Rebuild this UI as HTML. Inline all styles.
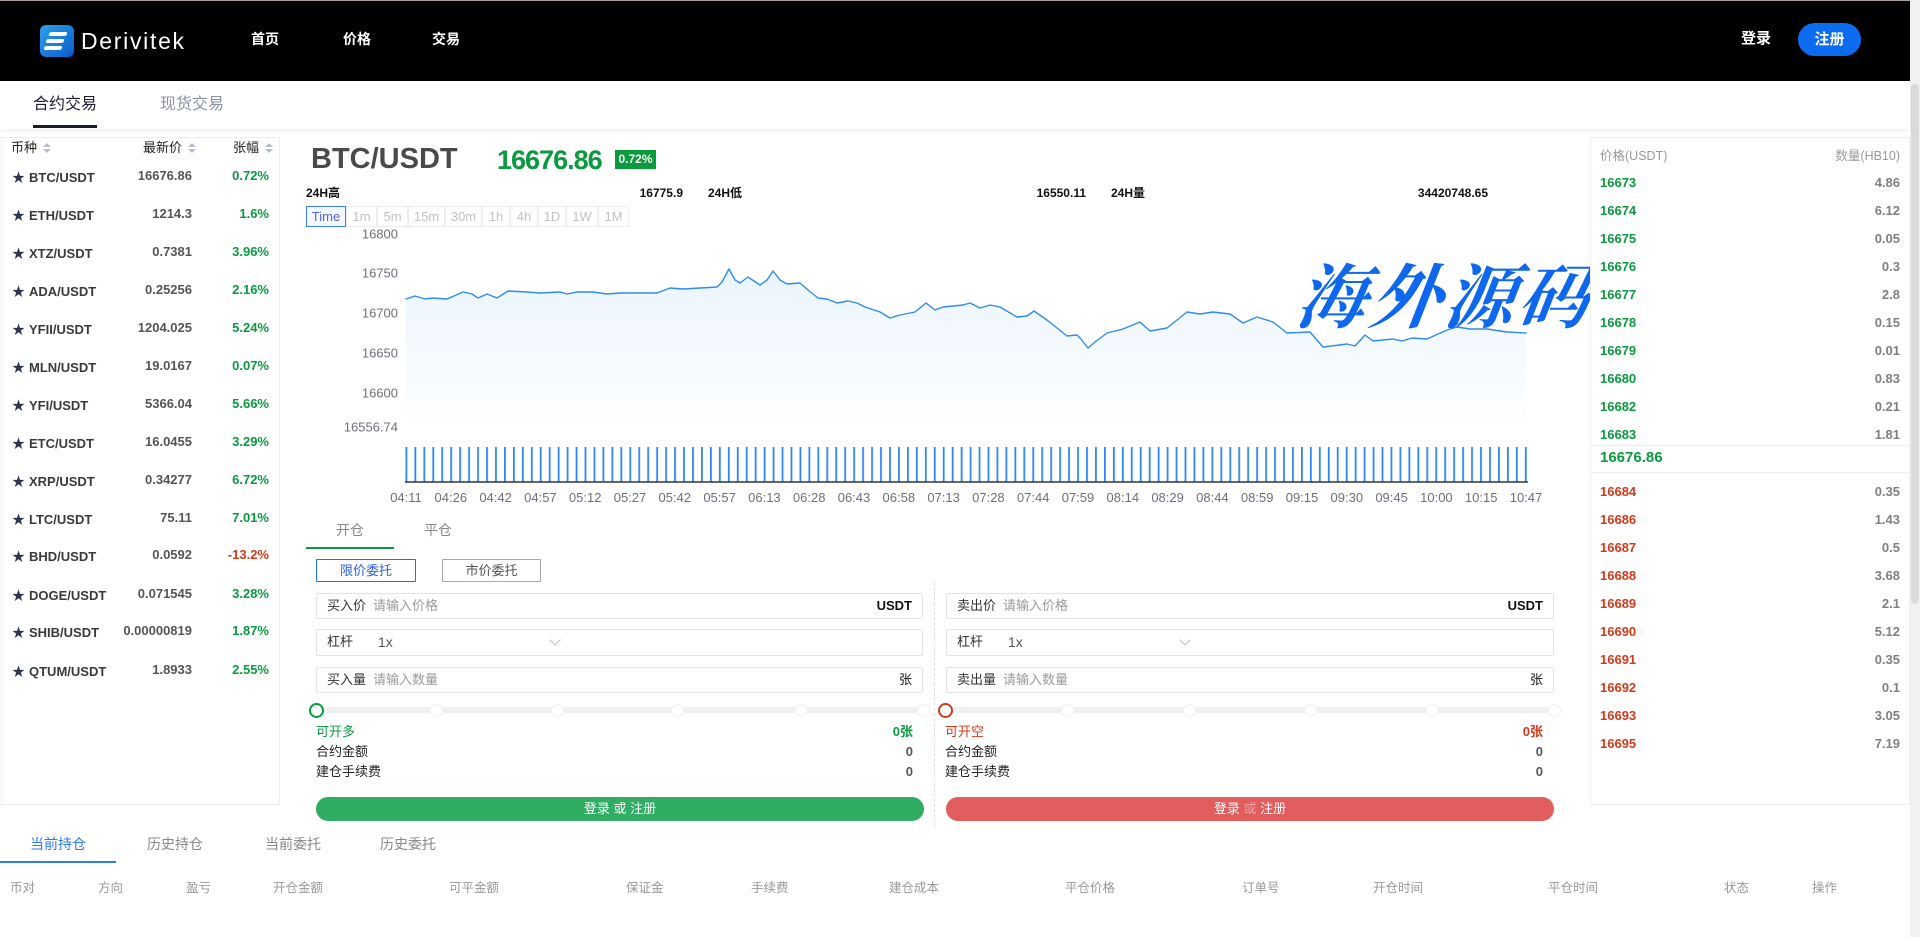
<!DOCTYPE html>
<html><head><meta charset="utf-8">
<style>
*{margin:0;padding:0;box-sizing:border-box}
html,body{width:1920px;height:937px;overflow:hidden;background:#fff;font-family:"Liberation Sans","Noto Sans CJK SC",sans-serif;color:#333}
.a{position:absolute;white-space:nowrap}
.hdr{position:absolute;left:0;top:0;width:1910px;height:81px;background:#000;border-top:1px solid #a89f99}
.nav{font-size:14px;font-weight:bold;color:#fff;top:30px;line-height:18px}
.tabbar{position:absolute;left:0;top:81px;width:1910px;height:48px;background:#fff;box-shadow:0 2px 4px rgba(0,0,0,0.06)}
.panel{position:absolute;border:1px solid #eeeeee;background:#fff}
.row{position:absolute;height:20px;line-height:20px;font-size:13px;font-weight:bold;white-space:nowrap}
.g{color:#0a9a3f}.rd{color:#d23a1a}
.ob{position:absolute;height:20px;line-height:20px;font-size:13px;font-weight:bold;white-space:nowrap}
.q{color:#808080;font-weight:bold;text-align:right}
.pb{position:absolute;top:206px;height:21px;border:1px solid #eeeeee;font-size:13px;color:#c2c2c2;text-align:center;line-height:19px}
.inp{position:absolute;height:26px;border:1px solid #e3e3e3;border-radius:2px;background:#fff}
.lbl{position:absolute;font-size:13px;color:#333;line-height:24px;top:0}
.ph{position:absolute;font-size:13px;color:#9a9a9a;line-height:24px;top:0}
.unit{position:absolute;right:10px;font-size:13px;line-height:24px;top:0;color:#111}
.sm{position:absolute;font-size:13px;line-height:18px;color:#222;white-space:nowrap}
.track{position:absolute;height:6px;background:#f0f0f0;border-radius:3px}
.dot{position:absolute;width:13px;height:13px;border-radius:50%;background:#fff;border:1px solid #f0f0f0}
.btn{position:absolute;height:24px;border-radius:12px;color:#fff;font-size:13px;text-align:center;line-height:24px}
.ch{position:absolute;top:879px;font-size:12.5px;color:#999;line-height:18px;white-space:nowrap}
.sort{display:inline-block;width:8px;height:10px;position:relative;margin-left:6px;vertical-align:-1px}
.sort:before{content:"";position:absolute;left:0;top:0;border-left:4px solid transparent;border-right:4px solid transparent;border-bottom:4px solid #b7bdc8}
.sort:after{content:"";position:absolute;left:0;top:6px;border-left:4px solid transparent;border-right:4px solid transparent;border-top:4px solid #b7bdc8}
</style></head><body>

<!-- header -->
<div class="hdr"></div>
<div class="a" style="left:40px;top:25px;width:34px;height:32px;border-radius:6px;background:linear-gradient(135deg,#2aa0ee,#0a5cc9);overflow:hidden">
  <div style="position:absolute;left:9px;top:7px;width:18px;height:4px;background:#fff;border-radius:2px;transform:skewX(-20deg)"></div>
  <div style="position:absolute;left:6px;top:14px;width:18px;height:4px;background:#fff;border-radius:2px;transform:skewX(-20deg)"></div>
  <div style="position:absolute;left:4px;top:21px;width:18px;height:4px;background:#fff;border-radius:2px;transform:skewX(-20deg)"></div>
</div>
<div class="a" style="left:81px;top:27px;font-size:23px;color:#fff;line-height:28px;letter-spacing:1.7px">Derivitek</div>
<div class="a nav" style="left:251px">首页</div>
<div class="a nav" style="left:343px">价格</div>
<div class="a nav" style="left:432px">交易</div>
<div class="a" style="left:1741px;top:30px;font-size:15px;font-weight:bold;color:#fff;line-height:18px">登录</div>
<div class="a" style="left:1798px;top:23px;width:63px;height:33px;border-radius:17px;background:#0b6cf0;color:#fff;font-size:15px;font-weight:bold;text-align:center;line-height:33px">注册</div>

<!-- scrollbar -->
<div class="a" style="left:1910px;top:0;width:10px;height:937px;background:#f1f1f1"></div>
<div class="a" style="left:1911px;top:84px;width:8px;height:520px;background:#dadada;border-radius:4px"></div>

<!-- tab bar -->
<div class="tabbar"></div>
<div class="a" style="left:33px;top:95px;font-size:16px;color:#1a1d2e;line-height:20px">合约交易</div>
<div class="a" style="left:33px;top:125px;width:64px;height:3px;background:#1a1d2e"></div>
<div class="a" style="left:160px;top:95px;font-size:16px;color:#8a91a5;line-height:20px">现货交易</div>

<!-- left list -->
<div class="panel" style="left:1px;top:137px;width:279px;height:668px"></div>
<div class="a" style="left:11px;top:139px;font-size:13px;color:#222;line-height:18px">币种<span class="sort"></span></div>
<div class="a" style="left:143px;top:139px;font-size:13px;color:#222;line-height:18px">最新价<span class="sort"></span></div>
<div class="a" style="left:233px;top:139px;font-size:13px;color:#222;line-height:18px">张幅<span class="sort"></span></div>

<!-- chart header -->
<div class="a" style="left:311px;top:142px;font-size:29px;font-weight:bold;color:#4a4a4a;line-height:34px">BTC/USDT</div>
<div class="a" style="left:497px;top:143px;font-size:27px;font-weight:bold;color:#0a9a3f;line-height:34px;letter-spacing:-1px">16676.86</div>
<div class="a" style="left:615px;top:150px;width:41px;height:19px;background:#0a9b3c;color:#fff;font-size:12px;font-weight:bold;text-align:center;line-height:19px">0.72%</div>

<div class="a" style="left:306px;top:185px;font-size:12px;font-weight:bold;color:#111;line-height:16px">24H高</div>
<div class="a" style="left:600px;width:83px;text-align:right;top:185px;font-size:12px;font-weight:bold;color:#111;line-height:16px">16775.9</div>
<div class="a" style="left:708px;top:185px;font-size:12px;font-weight:bold;color:#111;line-height:16px">24H低</div>
<div class="a" style="left:1000px;width:86px;text-align:right;top:185px;font-size:12px;font-weight:bold;color:#111;line-height:16px">16550.11</div>
<div class="a" style="left:1111px;top:185px;font-size:12px;font-weight:bold;color:#111;line-height:16px">24H量</div>
<div class="a" style="left:1380px;width:108px;text-align:right;top:185px;font-size:12px;font-weight:bold;color:#111;line-height:16px">34420748.65</div>

<div class="pb" style="left:306px;width:40px;border-color:#3b7fee;color:#5266dd;background:#f3f7ff">Time</div>
<div class="pb" style="left:346px;width:31px">1m</div>
<div class="pb" style="left:377px;width:31px">5m</div>
<div class="pb" style="left:408px;width:37px">15m</div>
<div class="pb" style="left:445px;width:37px">30m</div>
<div class="pb" style="left:482px;width:28px">1h</div>
<div class="pb" style="left:510px;width:28px">4h</div>
<div class="pb" style="left:538px;width:28px">1D</div>
<div class="pb" style="left:566px;width:32px">1W</div>
<div class="pb" style="left:598px;width:31px">1M</div>

<!-- chart svg -->
<svg class="a" style="left:0;top:0" width="1920" height="937" viewBox="0 0 1920 937">
<defs>
<linearGradient id="fg" x1="0" y1="0" x2="0" y2="1">
<stop offset="0" stop-color="#1e88f0" stop-opacity="0.09"/>
<stop offset="1" stop-color="#1e88f0" stop-opacity="0.01"/>
</linearGradient>
<pattern id="vb" x="405.5" y="0" width="8.955" height="937" patternUnits="userSpaceOnUse">
<rect x="0" y="0" width="1.8" height="937" fill="#2e86f5"/>
</pattern>
</defs>
<g font-family="Liberation Sans, sans-serif" font-size="13" fill="#6e7079" text-anchor="end">
<text x="398" y="238.5">16800</text>
<text x="398" y="277.5">16750</text>
<text x="398" y="317.5">16700</text>
<text x="398" y="357.5">16650</text>
<text x="398" y="397.5">16600</text>
<text x="398" y="431.5">16556.74</text>
</g>
<polygon fill="url(#fg)" points="406,420 406,299 415,296 425,299 433,298 447,299 463,292 472,294 478,298 487,294 497,298 508,291 527,292 540,293 560,292 567,294 577,292 593,292 607,294 620,293 657,293 670,288 683,289 717,287 722,282 729,269 735,280 740,283 748,277 760,285 767,280 773,271 780,280 787,284 800,283 808,290 818,298 827,299 837,303 848,301 857,303 865,307 880,312 890,318 900,315 915,312 926,303 935,310 943,307 963,305 970,303 980,308 990,305 1000,307 1017,317 1027,316 1034,311 1047,320 1057,328 1067,336 1077,335 1080,338 1088,348 1095,342 1107,333 1123,329 1140,322 1150,331 1167,328 1187,312 1200,314 1213,312 1230,314 1243,323 1257,317 1273,322 1287,333 1310,332 1323,347 1347,344 1355,346 1365,335 1373,341 1393,339 1402,341 1412,338 1427,339 1447,330 1457,327 1470,329 1487,329 1507,332 1526,333 1526,420"/>
<polyline fill="none" stroke="#2f8cf2" stroke-width="1.4" stroke-linejoin="round" stroke-linecap="round" points="406,299 415,296 425,299 433,298 447,299 463,292 472,294 478,298 487,294 497,298 508,291 527,292 540,293 560,292 567,294 577,292 593,292 607,294 620,293 657,293 670,288 683,289 717,287 722,282 729,269 735,280 740,283 748,277 760,285 767,280 773,271 780,280 787,284 800,283 808,290 818,298 827,299 837,303 848,301 857,303 865,307 880,312 890,318 900,315 915,312 926,303 935,310 943,307 963,305 970,303 980,308 990,305 1000,307 1017,317 1027,316 1034,311 1047,320 1057,328 1067,336 1077,335 1080,338 1088,348 1095,342 1107,333 1123,329 1140,322 1150,331 1167,328 1187,312 1200,314 1213,312 1230,314 1243,323 1257,317 1273,322 1287,333 1310,332 1323,347 1347,344 1355,346 1365,335 1373,341 1393,339 1402,341 1412,338 1427,339 1447,330 1457,327 1470,329 1487,329 1507,332 1526,333"/>
<rect x="405.5" y="447" width="1122" height="35" fill="url(#vb)"/>
<line x1="405" y1="482" x2="1528" y2="482" stroke="#333" stroke-width="1.5"/>
<g font-family="Liberation Sans, sans-serif" font-size="13" fill="#6e7079" text-anchor="middle">
<text x="406" y="502">04:11</text><text x="450.8" y="502">04:26</text><text x="495.6" y="502">04:42</text><text x="540.4" y="502">04:57</text><text x="585.2" y="502">05:12</text><text x="630" y="502">05:27</text><text x="674.8" y="502">05:42</text><text x="719.6" y="502">05:57</text><text x="764.4" y="502">06:13</text><text x="809.2" y="502">06:28</text><text x="854" y="502">06:43</text><text x="898.8" y="502">06:58</text><text x="943.6" y="502">07:13</text><text x="988.4" y="502">07:28</text><text x="1033.2" y="502">07:44</text><text x="1078" y="502">07:59</text><text x="1122.8" y="502">08:14</text><text x="1167.6" y="502">08:29</text><text x="1212.4" y="502">08:44</text><text x="1257.2" y="502">08:59</text><text x="1302" y="502">09:15</text><text x="1346.8" y="502">09:30</text><text x="1391.6" y="502">09:45</text><text x="1436.4" y="502">10:00</text><text x="1481.2" y="502">10:15</text><text x="1526" y="502">10:47</text>
</g>
<text x="1294" y="322" font-family="Noto Serif CJK SC, serif" font-weight="bold" font-size="70" fill="#0d68ee" font-style="italic" letter-spacing="4" transform="skewX(-8) translate(45,0)">海外源码</text>
</svg>

<!-- order book -->
<div class="panel" style="left:1590px;top:137px;width:320px;height:668px"></div>
<div class="a" style="left:1600px;top:147px;font-size:12.5px;color:#999;line-height:18px">价格(USDT)</div>
<div class="a" style="left:1800px;width:100px;text-align:right;top:147px;font-size:12.5px;color:#999;line-height:18px">数量(HB10)</div>
<div class="a" style="left:1591px;top:445px;width:318px;height:1px;background:#eee"></div>
<div class="a" style="left:1600px;top:449px;font-size:15px;font-weight:bold;color:#0a9a3f;line-height:18px">16676.86</div>
<div class="a" style="left:1591px;top:472px;width:318px;height:1px;background:#eee"></div>

<!-- trade form -->
<div class="a" style="left:336px;top:521px;font-size:14px;color:#888;line-height:18px">开仓</div>
<div class="a" style="left:424px;top:521px;font-size:14px;color:#888;line-height:18px">平仓</div>
<div class="a" style="left:306px;top:547px;width:88px;height:2px;background:#0a9a3f"></div>
<div class="a" style="left:316px;top:559px;width:100px;height:23px;border:1px solid #1e6ff0;border-radius:1px;color:#2a62e8;font-size:13px;text-align:center;line-height:21px">限价委托</div>
<div class="a" style="left:442px;top:559px;width:99px;height:23px;border:1px solid #aaa;border-radius:1px;color:#555;font-size:13px;text-align:center;line-height:21px">市价委托</div>

<div class="a" style="left:934px;top:582px;width:0;height:245px;border-left:1px dashed #ddd"></div>

<!-- left form -->
<div class="inp" style="left:316px;top:593px;width:607px"><span class="lbl" style="left:10px">买入价</span><span class="ph" style="left:56px">请输入价格</span><span class="unit" style="font-weight:bold">USDT</span></div>
<div class="inp" style="left:316px;top:629px;width:607px;height:27px"><span class="lbl" style="left:10px">杠杆</span><span class="ph" style="left:61px;color:#555;font-size:14px">1x</span><span class="a" style="left:234px;top:6px;width:8px;height:8px;border-right:1px solid #bbb;border-bottom:1px solid #bbb;transform:rotate(45deg)"></span></div>
<div class="inp" style="left:316px;top:667px;width:607px"><span class="lbl" style="left:10px">买入量</span><span class="ph" style="left:56px">请输入数量</span><span class="unit">张</span></div>
<div class="track" style="left:316px;top:707px;width:608px"></div>
<div class="dot" style="left:430px;top:704px"></div>
<div class="dot" style="left:551px;top:704px"></div>
<div class="dot" style="left:671px;top:704px"></div>
<div class="dot" style="left:795px;top:704px"></div>
<div class="dot" style="left:917px;top:704px"></div>
<div class="a" style="left:309px;top:703px;width:15px;height:15px;border-radius:50%;background:#fff;border:2.5px solid #0a9a3f"></div>
<div class="sm" style="left:316px;top:723px;color:#0a9a3f">可开多</div>
<div class="sm" style="left:860px;width:53px;text-align:right;top:723px;color:#0a9a3f;font-weight:bold">0张</div>
<div class="sm" style="left:316px;top:743px">合约金额</div>
<div class="sm" style="left:860px;width:53px;text-align:right;top:743px;color:#555;font-weight:bold">0</div>
<div class="sm" style="left:316px;top:763px">建仓手续费</div>
<div class="sm" style="left:860px;width:53px;text-align:right;top:763px;color:#555;font-weight:bold">0</div>
<div class="btn" style="left:316px;top:797px;width:608px;background:#2fae63">登录 或 注册</div>

<!-- right form -->
<div class="inp" style="left:946px;top:593px;width:608px"><span class="lbl" style="left:10px">卖出价</span><span class="ph" style="left:56px">请输入价格</span><span class="unit" style="font-weight:bold">USDT</span></div>
<div class="inp" style="left:946px;top:629px;width:608px;height:27px"><span class="lbl" style="left:10px">杠杆</span><span class="ph" style="left:61px;color:#555;font-size:14px">1x</span><span class="a" style="left:234px;top:6px;width:8px;height:8px;border-right:1px solid #bbb;border-bottom:1px solid #bbb;transform:rotate(45deg)"></span></div>
<div class="inp" style="left:946px;top:667px;width:608px"><span class="lbl" style="left:10px">卖出量</span><span class="ph" style="left:56px">请输入数量</span><span class="unit">张</span></div>
<div class="track" style="left:945px;top:707px;width:609px"></div>
<div class="dot" style="left:1061px;top:704px"></div>
<div class="dot" style="left:1183px;top:704px"></div>
<div class="dot" style="left:1304px;top:704px"></div>
<div class="dot" style="left:1426px;top:704px"></div>
<div class="dot" style="left:1548px;top:704px"></div>
<div class="a" style="left:938px;top:703px;width:15px;height:15px;border-radius:50%;background:#fff;border:2.5px solid #d03a1a"></div>
<div class="sm" style="left:945px;top:723px;color:#d03a1a">可开空</div>
<div class="sm" style="left:1490px;width:53px;text-align:right;top:723px;color:#d03a1a;font-weight:bold">0张</div>
<div class="sm" style="left:945px;top:743px">合约金额</div>
<div class="sm" style="left:1490px;width:53px;text-align:right;top:743px;color:#555;font-weight:bold">0</div>
<div class="sm" style="left:945px;top:763px">建仓手续费</div>
<div class="sm" style="left:1490px;width:53px;text-align:right;top:763px;color:#555;font-weight:bold">0</div>
<div class="btn" style="left:946px;top:797px;width:608px;background:#e25d5e">登录 <span style="color:#f0a0a0">或</span> 注册</div>

<!-- bottom tabs -->
<div class="a" style="left:30px;top:835px;font-size:14px;color:#2f7bf0;line-height:18px">当前持仓</div>
<div class="a" style="left:0;top:861px;width:116px;height:2px;background:#2f7bf0"></div>
<div class="a" style="left:147px;top:835px;font-size:14px;color:#888;line-height:18px">历史持仓</div>
<div class="a" style="left:265px;top:835px;font-size:14px;color:#888;line-height:18px">当前委托</div>
<div class="a" style="left:380px;top:835px;font-size:14px;color:#888;line-height:18px">历史委托</div>
<div class="ch" style="left:10px">币对</div>
<div class="ch" style="left:98px">方向</div>
<div class="ch" style="left:186px">盈亏</div>
<div class="ch" style="left:273px">开仓金额</div>
<div class="ch" style="left:449px">可平金额</div>
<div class="ch" style="left:626px">保证金</div>
<div class="ch" style="left:751px">手续费</div>
<div class="ch" style="left:889px">建仓成本</div>
<div class="ch" style="left:1065px">平仓价格</div>
<div class="ch" style="left:1242px">订单号</div>
<div class="ch" style="left:1373px">开仓时间</div>
<div class="ch" style="left:1548px">平仓时间</div>
<div class="ch" style="left:1724px">状态</div>
<div class="ch" style="left:1812px">操作</div>

<!-- left list rows -->
<div class="row" style="left:12px;top:168px;color:#2f3550">★</div><div class="row" style="left:29px;top:168px;color:#3a3a3a">BTC/USDT</div><div class="row" style="left:100px;width:92px;text-align:right;top:166px;color:#555">16676.86</div><div class="row g" style="left:210px;width:59px;text-align:right;top:166px">0.72%</div>
<div class="row" style="left:12px;top:206px;color:#2f3550">★</div><div class="row" style="left:29px;top:206px;color:#3a3a3a">ETH/USDT</div><div class="row" style="left:100px;width:92px;text-align:right;top:204px;color:#555">1214.3</div><div class="row g" style="left:210px;width:59px;text-align:right;top:204px">1.6%</div>
<div class="row" style="left:12px;top:244px;color:#2f3550">★</div><div class="row" style="left:29px;top:244px;color:#3a3a3a">XTZ/USDT</div><div class="row" style="left:100px;width:92px;text-align:right;top:242px;color:#555">0.7381</div><div class="row g" style="left:210px;width:59px;text-align:right;top:242px">3.96%</div>
<div class="row" style="left:12px;top:282px;color:#2f3550">★</div><div class="row" style="left:29px;top:282px;color:#3a3a3a">ADA/USDT</div><div class="row" style="left:100px;width:92px;text-align:right;top:280px;color:#555">0.25256</div><div class="row g" style="left:210px;width:59px;text-align:right;top:280px">2.16%</div>
<div class="row" style="left:12px;top:320px;color:#2f3550">★</div><div class="row" style="left:29px;top:320px;color:#3a3a3a">YFII/USDT</div><div class="row" style="left:100px;width:92px;text-align:right;top:318px;color:#555">1204.025</div><div class="row g" style="left:210px;width:59px;text-align:right;top:318px">5.24%</div>
<div class="row" style="left:12px;top:358px;color:#2f3550">★</div><div class="row" style="left:29px;top:358px;color:#3a3a3a">MLN/USDT</div><div class="row" style="left:100px;width:92px;text-align:right;top:356px;color:#555">19.0167</div><div class="row g" style="left:210px;width:59px;text-align:right;top:356px">0.07%</div>
<div class="row" style="left:12px;top:396px;color:#2f3550">★</div><div class="row" style="left:29px;top:396px;color:#3a3a3a">YFI/USDT</div><div class="row" style="left:100px;width:92px;text-align:right;top:394px;color:#555">5366.04</div><div class="row g" style="left:210px;width:59px;text-align:right;top:394px">5.66%</div>
<div class="row" style="left:12px;top:434px;color:#2f3550">★</div><div class="row" style="left:29px;top:434px;color:#3a3a3a">ETC/USDT</div><div class="row" style="left:100px;width:92px;text-align:right;top:432px;color:#555">16.0455</div><div class="row g" style="left:210px;width:59px;text-align:right;top:432px">3.29%</div>
<div class="row" style="left:12px;top:472px;color:#2f3550">★</div><div class="row" style="left:29px;top:472px;color:#3a3a3a">XRP/USDT</div><div class="row" style="left:100px;width:92px;text-align:right;top:470px;color:#555">0.34277</div><div class="row g" style="left:210px;width:59px;text-align:right;top:470px">6.72%</div>
<div class="row" style="left:12px;top:510px;color:#2f3550">★</div><div class="row" style="left:29px;top:510px;color:#3a3a3a">LTC/USDT</div><div class="row" style="left:100px;width:92px;text-align:right;top:508px;color:#555">75.11</div><div class="row g" style="left:210px;width:59px;text-align:right;top:508px">7.01%</div>
<div class="row" style="left:12px;top:547px;color:#2f3550">★</div><div class="row" style="left:29px;top:547px;color:#3a3a3a">BHD/USDT</div><div class="row" style="left:100px;width:92px;text-align:right;top:545px;color:#555">0.0592</div><div class="row rd" style="left:210px;width:59px;text-align:right;top:545px">-13.2%</div>
<div class="row" style="left:12px;top:586px;color:#2f3550">★</div><div class="row" style="left:29px;top:586px;color:#3a3a3a">DOGE/USDT</div><div class="row" style="left:100px;width:92px;text-align:right;top:584px;color:#555">0.071545</div><div class="row g" style="left:210px;width:59px;text-align:right;top:584px">3.28%</div>
<div class="row" style="left:12px;top:623px;color:#2f3550">★</div><div class="row" style="left:29px;top:623px;color:#3a3a3a">SHIB/USDT</div><div class="row" style="left:100px;width:92px;text-align:right;top:621px;color:#555">0.00000819</div><div class="row g" style="left:210px;width:59px;text-align:right;top:621px">1.87%</div>
<div class="row" style="left:12px;top:662px;color:#2f3550">★</div><div class="row" style="left:29px;top:662px;color:#3a3a3a">QTUM/USDT</div><div class="row" style="left:100px;width:92px;text-align:right;top:660px;color:#555">1.8933</div><div class="row g" style="left:210px;width:59px;text-align:right;top:660px">2.55%</div>

<!-- order book rows -->
<div class="ob g" style="left:1600px;top:173px">16673</div><div class="ob q" style="left:1800px;width:100px;top:173px">4.86</div>
<div class="ob g" style="left:1600px;top:201px">16674</div><div class="ob q" style="left:1800px;width:100px;top:201px">6.12</div>
<div class="ob g" style="left:1600px;top:229px">16675</div><div class="ob q" style="left:1800px;width:100px;top:229px">0.05</div>
<div class="ob g" style="left:1600px;top:257px">16676</div><div class="ob q" style="left:1800px;width:100px;top:257px">0.3</div>
<div class="ob g" style="left:1600px;top:285px">16677</div><div class="ob q" style="left:1800px;width:100px;top:285px">2.8</div>
<div class="ob g" style="left:1600px;top:313px">16678</div><div class="ob q" style="left:1800px;width:100px;top:313px">0.15</div>
<div class="ob g" style="left:1600px;top:341px">16679</div><div class="ob q" style="left:1800px;width:100px;top:341px">0.01</div>
<div class="ob g" style="left:1600px;top:369px">16680</div><div class="ob q" style="left:1800px;width:100px;top:369px">0.83</div>
<div class="ob g" style="left:1600px;top:397px">16682</div><div class="ob q" style="left:1800px;width:100px;top:397px">0.21</div>
<div class="ob g" style="left:1600px;top:425px">16683</div><div class="ob q" style="left:1800px;width:100px;top:425px">1.81</div>
<div class="ob rd" style="left:1600px;top:482px">16684</div><div class="ob q" style="left:1800px;width:100px;top:482px">0.35</div>
<div class="ob rd" style="left:1600px;top:510px">16686</div><div class="ob q" style="left:1800px;width:100px;top:510px">1.43</div>
<div class="ob rd" style="left:1600px;top:538px">16687</div><div class="ob q" style="left:1800px;width:100px;top:538px">0.5</div>
<div class="ob rd" style="left:1600px;top:566px">16688</div><div class="ob q" style="left:1800px;width:100px;top:566px">3.68</div>
<div class="ob rd" style="left:1600px;top:594px">16689</div><div class="ob q" style="left:1800px;width:100px;top:594px">2.1</div>
<div class="ob rd" style="left:1600px;top:622px">16690</div><div class="ob q" style="left:1800px;width:100px;top:622px">5.12</div>
<div class="ob rd" style="left:1600px;top:650px">16691</div><div class="ob q" style="left:1800px;width:100px;top:650px">0.35</div>
<div class="ob rd" style="left:1600px;top:678px">16692</div><div class="ob q" style="left:1800px;width:100px;top:678px">0.1</div>
<div class="ob rd" style="left:1600px;top:706px">16693</div><div class="ob q" style="left:1800px;width:100px;top:706px">3.05</div>
<div class="ob rd" style="left:1600px;top:734px">16695</div><div class="ob q" style="left:1800px;width:100px;top:734px">7.19</div>

</body></html>
